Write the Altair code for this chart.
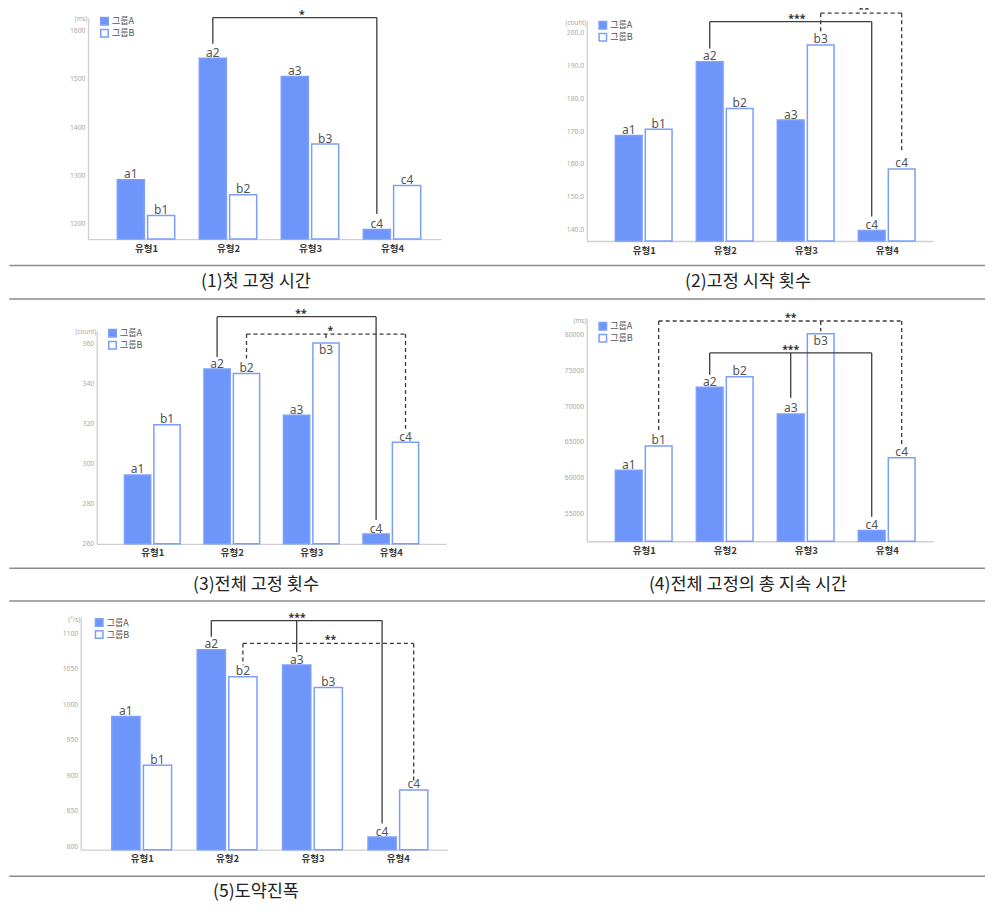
import altair as alt
import pandas as pd

# ---------------- data ----------------
categories = ["유형1", "유형2", "유형3", "유형4"]
groups = ["그룹A", "그룹B"]
labels_a = ["a1", "a2", "a3", "c4"]
labels_b = ["b1", "b2", "b3", "c4"]

titles = ["(1)첫 고정 시간", "(2)고정 시작 횟수", "(3)전체 고정 횟수",
          "(4)전체 고정의 총 지속 시간", "(5)도약진폭"]
units = ["(ms)", "(count)", "(count)", "(ms)", "(°/s)"]

p1_a = [1291, 1543, 1505, 1188]
p1_b = [1217, 1260, 1365, 1279]
p2_a = [168.7, 191.2, 173.4, 139.7]
p2_b = [170.6, 176.9, 196.3, 158.5]
p3_a = [294.1, 347.0, 323.9, 264.6]
p3_b = [319.2, 344.8, 360.1, 310.4]
p4_a = [61050, 72630, 68900, 52680]
p4_b = [64450, 74070, 80070, 62820]
p5_a = [982.5, 1076.6, 1055.0, 813.0]
p5_b = [914.0, 1038.6, 1023.4, 879.3]

ticks_p1 = [1200, 1300, 1400, 1500, 1600]
ticks_p2 = [140, 150, 160, 170, 180, 190, 200]
ticks_p3 = [260, 280, 300, 320, 340, 360]
ticks_p4 = [55000, 60000, 65000, 70000, 75000, 80000]
ticks_p5 = [800, 850, 900, 950, 1000, 1050, 1100]
tick_formats = ["d", ".1f", "d", "d", "d"]

# axis extents (value range of each y axis)
ydom_p1 = [1168.2, 1626.6]
ydom_p2 = [136.5, 203.7]
ydom_p3 = [259.7, 366.0]
ydom_p4 = [51185, 82207]
ydom_p5 = [795.3, 1122.7]

# significance brackets: (style, stars, bracket level, star position,
#                         legs = [(category index, group index, leg end value)])
brk_p1 = [("solid", "*", 1627, 1.90, [(1, 0, 1573), (3, 0, 1220)])]
brk_p2 = [("solid", "***", 203.4, 1.89, [(1, 0, 195.2), (3, 0, 144.0)]),
          ("dashed", "**", 206.0, 2.72, [(2, 1, 199.7), (3, 1, 163.4)])]
brk_p3 = [("solid", "**", 373.2, 1.87, [(1, 0, 353.1), (3, 0, 271.6)]),
          ("dashed", "*", 364.5, 2.24, [(1, 1, 352.3), (2, 1, 361.6), (3, 1, 317.2)])]
brk_p4 = [("dashed", "**", 81839, 1.815, [(0, 1, 66403), (2, 1, 80395), (3, 1, 64360)]),
          ("solid", "***", 77398, 1.815, [(1, 0, 74346), (2, 0, 71172), (3, 0, 54591)])]
brk_p5 = [("solid", "***", 1117.6, 1.82, [(1, 0, 1094.8), (2, 0, 1073.1), (3, 0, 832.1)]),
          ("dashed", "**", 1085.5, 2.21, [(1, 1, 1054.8), (3, 1, 891.7)])]

# value labels drawn just inside the bar top: (category index, group index)
inside_p3 = [(2, 1)]
inside_p4 = [(2, 1)]

# ---------------- layout (page pixels) ----------------
W, H = 977, 893
SY = 0.979


def X(r):
    return r - 8


def Y(r):
    return (r - 2) * SY


panel_layout = [
    dict(ax=88, xend=441, c0=146, step=82, base=238, top=12, leg=(101, 19), unit_y=13),
    dict(ax=586.7, xend=933, c0=643.7, step=81, base=240, top=15, leg=(599.3, 23.3), unit_y=16.7),
    dict(ax=96.7, xend=446, c0=152.3, step=79.5, base=549.3, top=332, leg=(109, 337.7), unit_y=332.3),
    dict(ax=586.7, xend=933, c0=643.7, step=81, base=546.7, top=319, leg=(599.3, 330.7), unit_y=320.7),
    dict(ax=80.7, xend=447.7, c0=141.7, step=85.4, base=861.7, top=624, leg=(95.7, 633.3), unit_y=626.7),
]
sep_lines = [265, 299.3, 574.3, 607.7, 889]
caption_pos = [(256, 281.7), (748, 281.7), (256, 591), (748, 591), (256, 905)]

values = [(p1_a, p1_b), (p2_a, p2_b), (p3_a, p3_b), (p4_a, p4_b), (p5_a, p5_b)]
ticks = [ticks_p1, ticks_p2, ticks_p3, ticks_p4, ticks_p5]
ydoms = [ydom_p1, ydom_p2, ydom_p3, ydom_p4, ydom_p5]
brks = [brk_p1, brk_p2, brk_p3, brk_p4, brk_p5]
insides = [[], [], inside_p3, inside_p4, []]

BLUE = "#6e96fa"
BLUE_EDGE = "#7b9ffa"
OFFS = [(-0.35, -0.02), (0.02, 0.35)]
label_expr = "[" + ",".join("'" + c + "'" for c in categories) + "][datum.value]"


def panel(k):
    L = panel_layout[k]
    a, b = values[k]
    ymin, ymax = ydoms[k]
    lo = (L["ax"] - L["c0"]) / L["step"]
    hi = (L["xend"] - L["c0"]) / L["step"]
    xs = alt.Scale(domain=[lo, hi], range=[X(L["ax"]), X(L["xend"])], zero=False, nice=False)
    ys = alt.Scale(domain=[ymin, ymax], range=[Y(L["base"]), Y(L["top"])], zero=False, nice=False)

    xaxis = alt.Axis(orient="bottom", offset=-(H - Y(L["base"])), values=[0, 1, 2, 3],
                     labelExpr=label_expr, ticks=False, tickSize=0, grid=False,
                     domainColor="#cfcfcf", domainWidth=1.3, labelFontSize=9.5,
                     labelFontWeight="bold", labelColor="#3a3a3a", labelFont="Noto Sans CJK KR",
                     labelPadding=4, title=None)
    yaxis = alt.Axis(orient="left", offset=-X(L["ax"]), values=ticks[k], format=tick_formats[k],
                     ticks=False, tickSize=0, grid=False, domainColor="#cfcfcf", domainWidth=1.3,
                     labelFontSize=6.8, labelColor="#a8a8a8", labelPadding=3, labelFont="Noto Sans",
                     title=units[k], titleAngle=0, titleAlign="right", titleBaseline="middle",
                     titleX=-1, titleY=Y(L["unit_y"]), titleFontSize=6.3, titleFontWeight="normal",
                     titleColor="#a8a8a8", titleFont="Noto Sans")

    rows = []
    for gi, (vals, labs) in enumerate([(a, labels_a), (b, labels_b)]):
        o = OFFS[gi]
        for ci, v in enumerate(vals):
            rows.append(dict(grp=groups[gi], value=v, base=ymin, label=labs[ci],
                             x0=ci + o[0], x1=ci + o[1], xc=ci + (o[0] + o[1]) / 2,
                             inside=(ci, gi) in insides[k]))
    df = pd.DataFrame(rows)

    hs, vs, ss = [], [], []
    for style, stars, level, sx, legs in brks[k]:
        xx = [ci + sum(OFFS[gi]) / 2 for ci, gi, _ in legs]
        hs.append(dict(style=style, xl=min(xx), xr=max(xx), level=level))
        for (ci, gi, bot), xv in zip(legs, xx):
            vs.append(dict(style=style, x=xv, top=level, bot=bot))
        ss.append(dict(x=sx, level=level, stars=stars))
    hdf, vdf, sdf = pd.DataFrame(hs), pd.DataFrame(vs), pd.DataFrame(ss)

    lx, ly = panel_layout[k]["leg"]
    bars = alt.Chart(df).mark_bar(stroke=BLUE_EDGE, strokeWidth=1.5).encode(
        x=alt.X("x0:Q", scale=xs, axis=xaxis),
        x2="x1:Q",
        y=alt.Y("value:Q", scale=ys, axis=yaxis),
        y2="base:Q",
        fill=alt.Fill("grp:N", scale=alt.Scale(domain=groups, range=[BLUE, "#ffffff"]),
                      legend=alt.Legend(orient="none", legendX=X(lx) - 1, legendY=Y(ly) - 8,
                                        title=None, symbolType="square", symbolSize=56,
                                        symbolStrokeColor=BLUE_EDGE, symbolStrokeWidth=1.5,
                                        labelFontSize=9, labelColor="#555555",
                                        labelFont="Noto Sans CJK KR", labelOffset=3,
                                        rowPadding=-4, padding=0)),
    )
    lab_out = alt.Chart(df).transform_filter("!datum.inside").mark_text(
        baseline="alphabetic", dy=-1.5, fontSize=12, color="#555555", font="Noto Sans"
    ).encode(x=alt.X("xc:Q", scale=xs, axis=xaxis), y=alt.Y("value:Q", scale=ys, axis=yaxis),
             text="label:N")
    lab_in = alt.Chart(df).transform_filter("datum.inside").mark_text(
        baseline="top", dy=2, fontSize=12, color="#555555", font="Noto Sans"
    ).encode(x=alt.X("xc:Q", scale=xs, axis=xaxis), y=alt.Y("value:Q", scale=ys, axis=yaxis),
             text="label:N")
    dash = alt.condition("datum.style == 'dashed'", alt.value([4, 3]), alt.value([1, 0]))
    hrule = alt.Chart(hdf).mark_rule(color="#3c3c3c", strokeWidth=1.3).encode(
        x=alt.X("xl:Q", scale=xs, axis=xaxis), x2="xr:Q",
        y=alt.Y("level:Q", scale=ys, axis=yaxis), strokeDash=dash)
    vrule = alt.Chart(vdf).mark_rule(color="#3c3c3c", strokeWidth=1.3).encode(
        x=alt.X("x:Q", scale=xs, axis=xaxis),
        y=alt.Y("top:Q", scale=ys, axis=yaxis), y2="bot:Q", strokeDash=dash)
    stars = alt.Chart(sdf).mark_text(baseline="alphabetic", dy=0, fontSize=10.5, fontWeight="bold",
                                     color="#333333", font="Noto Sans").encode(
        x=alt.X("x:Q", scale=xs, axis=xaxis), y=alt.Y("level:Q", scale=ys, axis=yaxis),
        text="stars:N")
    return alt.layer(bars, lab_out, lab_in, hrule, vrule, stars)


lines_df = pd.DataFrame([dict(x1=X(9.3), x2=X(993), y=Y(v)) for v in sep_lines])
cap_df = pd.DataFrame([dict(cx=X(cx), cy=Y(cy), text=t) for (cx, cy), t in zip(caption_pos, titles)])

seps = alt.Chart(lines_df).mark_rule(color="#8a8a8a", strokeWidth=1.5).encode(
    x=alt.X("x1:Q", scale=None, axis=None), x2="x2:Q",
    y=alt.Y("y:Q", scale=None, axis=None))
caps = alt.Chart(cap_df).mark_text(fontSize=17.5, font="Noto Sans CJK KR", color="#222222",
                                   baseline="middle", align="center").encode(
    x=alt.X("cx:Q", scale=None, axis=None), y=alt.Y("cy:Q", scale=None, axis=None),
    text="text:N")

chart = alt.layer(*[panel(k) for k in range(5)], seps, caps).resolve_scale(
    x="independent", y="independent", fill="independent"
).resolve_axis(x="independent", y="independent").resolve_legend(fill="independent").properties(
    width=W, height=H, autosize=alt.AutoSizeParams(type="none"), padding=0
).configure_view(stroke=None)

chart.save("out.html", embed_options={"renderer": "svg", "actions": False})
